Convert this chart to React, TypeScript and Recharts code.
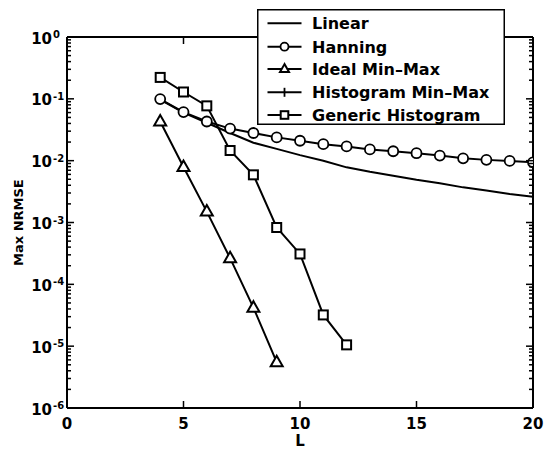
import React from 'react';
import { LineChart, Line, XAxis, YAxis, Legend } from 'recharts';

// ---- data ----
const L_VALUES = [4, 5, 6, 7, 8, 9, 10, 11, 12, 13, 14, 15, 16, 17, 18, 19, 20];
const LINEAR = [0.097, 0.06, 0.041, 0.028, 0.0195, 0.0155, 0.0123, 0.01, 0.0078, 0.0066, 0.0057, 0.0049, 0.0043, 0.0037, 0.0033, 0.0029, 0.0026];
const HANNING = [0.099, 0.061, 0.043, 0.033, 0.028, 0.0238, 0.021, 0.0185, 0.017, 0.0152, 0.0142, 0.0132, 0.0121, 0.0109, 0.0103, 0.0099, 0.0094];
const IDEAL_MINMAX = [0.043, 0.0079, 0.0015, 0.000265, 0.000042, 0.0000055];
const GENERIC_HIST = [0.222, 0.129, 0.077, 0.0146, 0.0059, 0.00083, 0.00031, 0.000032, 0.0000105];

const X_TICKS = [0, 5, 10, 15, 20];
const Y_MAJOR = [1e-6, 1e-5, 1e-4, 1e-3, 1e-2, 1e-1, 1];
const Y_MINOR_MULT = [2, 3, 4, 5, 6, 7, 8, 9];
const SERIES_NAMES = ['Linear', 'Hanning', 'Ideal Min\u2013Max', 'Histogram Min\u2013Max', 'Generic Histogram'];

const Y_TICKS: number[] = [];
Y_MAJOR.forEach((m, i) => {
  Y_TICKS.push(m);
  if (i < Y_MAJOR.length - 1) Y_MINOR_MULT.forEach((k) => Y_TICKS.push(m * k));
});

const data = L_VALUES.map((L, i) => ({
  L,
  linear: LINEAR[i],
  hanning: HANNING[i],
  ideal: i < IDEAL_MINMAX.length ? IDEAL_MINMAX[i] : null,
  generic: i < GENERIC_HIST.length ? GENERIC_HIST[i] : null,
}));

const FONT = '"DejaVu Sans", "Liberation Sans", Arial, sans-serif';

const isMajor = (v: number) => {
  const lg = Math.log10(v);
  return Math.abs(lg - Math.round(lg)) < 1e-6;
};

// ---- markers ----
const circleShape = (cx: number, cy: number, key?: any, r = 5) => (
  <circle key={key} cx={cx} cy={cy} r={r} fill="#fff" stroke="#000" strokeWidth={1.8} />
);
const triShape = (cx: number, cy: number, key?: any, s = 1) => (
  <polygon
    key={key}
    points={`${cx},${cy - 6.5 * s} ${cx - 6 * s},${cy + 4 * s} ${cx + 6 * s},${cy + 4 * s}`}
    fill="#fff"
    stroke="#000"
    strokeWidth={2}
    strokeLinejoin="miter"
  />
);
const squareShape = (cx: number, cy: number, key?: any, h = 4.5) => (
  <rect key={key} x={cx - h} y={cy - h} width={2 * h} height={2 * h} fill="#fff" stroke="#000" strokeWidth={2} />
);

const makeDot = (kind: string) => (props: any) => {
  const { cx, cy, index, value } = props;
  const key = `${kind}-${index}`;
  if (value == null || cx == null || cy == null || isNaN(cy)) return <g key={key} />;
  if (kind === 'circle') return circleShape(cx, cy, key);
  if (kind === 'tri') return triShape(cx, cy, key);
  return squareShape(cx, cy, key);
};

// ---- ticks ----
const LeftTick = (props: any) => {
  const { x, y, payload } = props;
  const v = payload.value;
  const major = isMajor(v);
  const exp = Math.round(Math.log10(v));
  return (
    <g>
      <line x1={x} x2={x + (major ? 7 : 4)} y1={y} y2={y} stroke="#000" strokeWidth={1.5} />
      {major && (
        <>
          <text x={x - 15} y={y + 6.5} textAnchor="end" fontSize={15} fontWeight="bold" fontFamily={FONT} fill="#000">
            10
          </text>
          <text x={x - 14} y={y + 1} textAnchor="start" fontSize={10} fontWeight="bold" fontFamily={FONT} fill="#000">
            {exp === 0 ? '0' : `-${Math.abs(exp)}`}
          </text>
        </>
      )}
    </g>
  );
};

const RightTick = (props: any) => {
  const { x, y, payload } = props;
  const major = isMajor(payload.value);
  return <line x1={x} x2={x - (major ? 7 : 4)} y1={y} y2={y} stroke="#000" strokeWidth={1.5} />;
};

const BottomTick = (props: any) => {
  const { x, y, payload } = props;
  return (
    <g>
      <line x1={x} x2={x} y1={y} y2={y - 7} stroke="#000" strokeWidth={1.5} />
      <text x={x} y={y + 20.5} textAnchor="middle" fontSize={15} fontWeight="bold" fontFamily={FONT} fill="#000">
        {payload.value}
      </text>
    </g>
  );
};

const TopTick = (props: any) => {
  const { x, y } = props;
  return <line x1={x} x2={x} y1={y} y2={y + 7} stroke="#000" strokeWidth={1.5} />;
};

// ---- legend ----
const LegendBox = () => {
  const rows = [14.3, 37.7, 60, 83.3, 106];
  const w = 248;
  const h = 116;
  return (
    <svg width={w} height={h} style={{ display: 'block' }}>
      <rect x={0.75} y={0.75} width={w - 1.5} height={h - 1.5} fill="#fff" stroke="#000" strokeWidth={1.5} />
      {SERIES_NAMES.map((name, i) => {
        const cy = rows[i];
        let marker: any = null;
        if (i === 1) marker = circleShape(27.5, cy, undefined, 4);
        if (i === 2) marker = triShape(27.5, cy, undefined, 0.75);
        if (i === 3)
          marker = <line x1={27.5} x2={27.5} y1={cy - 4.5} y2={cy + 4.5} stroke="#000" strokeWidth={1.8} />;
        if (i === 4) marker = squareShape(27.5, cy, undefined, 3.8);
        return (
          <g key={name}>
            <line x1={10.5} x2={44.5} y1={cy} y2={cy} stroke="#000" strokeWidth={2} />
            {marker}
            <text x={55} y={cy + 6} fontSize={16} fontWeight="bold" fontFamily={FONT} fill="#000">
              {name}
            </text>
          </g>
        );
      })}
    </svg>
  );
};

export default function App() {
  return (
    <div style={{ position: 'absolute', left: 0, top: 0, width: 545, height: 452, background: '#fff' }}>
      <LineChart width={545} height={452} data={data} margin={{ top: 7, right: 0, bottom: 0, left: 7 }}>
        <XAxis
          dataKey="L"
          type="number"
          domain={[0, 20]}
          ticks={X_TICKS}
          height={44}
          tickSize={0}
          tickMargin={0}
          tickLine={false}
          tick={BottomTick}
          interval={0}
          axisLine={{ stroke: '#000', strokeWidth: 2 }}
          allowDataOverflow
        />
        <XAxis
          xAxisId="t"
          orientation="top"
          dataKey="L"
          type="number"
          domain={[0, 20]}
          ticks={X_TICKS}
          height={30}
          tickSize={0}
          tickMargin={0}
          tickLine={false}
          tick={TopTick}
          interval={0}
          axisLine={{ stroke: '#000', strokeWidth: 2 }}
          allowDataOverflow
        />
        <YAxis
          type="number"
          scale="log"
          domain={[1e-6, 1]}
          ticks={Y_TICKS}
          width={60}
          tickSize={0}
          tickMargin={0}
          tickLine={false}
          tick={LeftTick}
          interval={0}
          axisLine={{ stroke: '#000', strokeWidth: 2 }}
          allowDataOverflow
        />
        <YAxis
          yAxisId="r"
          orientation="right"
          type="number"
          scale="log"
          domain={[1e-6, 1]}
          ticks={Y_TICKS}
          width={12}
          tickSize={0}
          tickMargin={0}
          tickLine={false}
          tick={RightTick}
          interval={0}
          axisLine={{ stroke: '#000', strokeWidth: 2 }}
          allowDataOverflow
        />
        <Line dataKey="linear" stroke="#000" strokeWidth={2} dot={false} isAnimationActive={false} />
        <Line dataKey="hanning" stroke="#000" strokeWidth={2} dot={makeDot('circle')} isAnimationActive={false} />
        <Line dataKey="ideal" stroke="#000" strokeWidth={2} dot={makeDot('tri')} isAnimationActive={false} />
        <Line dataKey="generic" stroke="#000" strokeWidth={2} dot={makeDot('square')} isAnimationActive={false} />
        <Legend
          layout="vertical"
          align="center"
          verticalAlign="middle"
          content={() => <LegendBox />}
          wrapperStyle={{ position: 'absolute', left: 257, top: 9, width: 248, height: 116 }}
        />
      </LineChart>
      <div
        style={{
          position: 'absolute',
          left: 0,
          top: 0,
          width: 545,
          height: 452,
          pointerEvents: 'none',
        }}
      >
        <svg width={545} height={452}>
          <text x={300} y={446} textAnchor="middle" fontSize={15} fontWeight="bold" fontFamily={FONT} fill="#000">
            L
          </text>
          <text
            x={0}
            y={0}
            transform="translate(23,222.6) rotate(-90)"
            textAnchor="middle"
            fontSize={13}
            fontWeight="bold"
            fontFamily={FONT}
            fill="#000"
          >
            Max NRMSE
          </text>
        </svg>
      </div>
    </div>
  );
}
